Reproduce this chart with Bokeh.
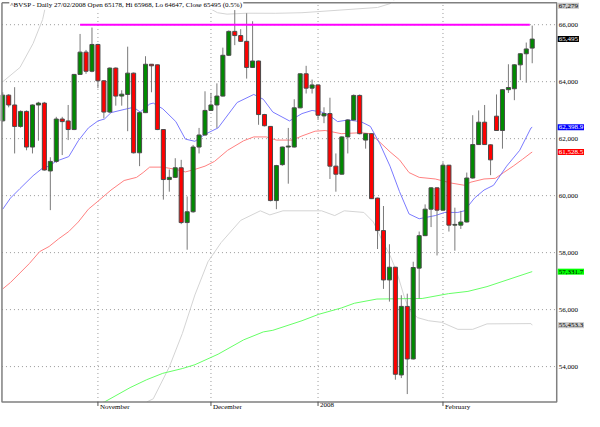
from bokeh.plotting import figure
from bokeh.models import Range1d, Label
from bokeh.embed import file_html
from bokeh.resources import INLINE
from bokeh.core.properties import value

# ---------------- data ----------------
symbol = "^BVSP"
last_date = "27/02/2008"
change_pct = "0.5%"

opens = [62626, 63527, 63182, 62430, 62957, 61706, 63182, 63249, 60867, 61202,
         62689, 62622, 62320, 64255, 65037, 64366, 65306, 64031, 62934, 64477,
         63494, 63551, 64299, 61504, 62913, 64611, 64591, 62320, 60565, 60642,
         60978, 59055, 59434, 61706, 62128, 62991, 63182, 63494, 64926, 65765,
         65618, 65416, 64500, 64725, 62846, 62430, 59827, 61088, 61706, 61706,
         63081, 64276, 63772, 63886, 62799, 62880, 61035, 60753, 62061, 62655,
         63517, 61950, 62175, 59914, 58773, 57042, 57488, 53707, 56113, 54268,
         57455, 58596, 59525, 60273, 59491, 61068, 58965, 58965, 59075, 60619,
         61793, 62578, 61783, 62789, 62286, 63719, 63752, 64591, 64980, 65178]
highs = [63628, 63560, 63806, 62990, 62990, 63200, 63293, 63290, 61347, 62766,
         62766, 63182, 64270, 65675, 65114, 65899, 65330, 64050, 64500, 64500,
         63700, 65228, 64320, 62930, 64893, 64620, 64600, 62330, 60920, 61313,
         61256, 59971, 61780, 62377, 63662, 63605, 63940, 65195, 65800, 66513,
         65842, 66403, 66121, 64740, 62870, 62440, 61080, 61720, 62377, 63383,
         64290, 64557, 64074, 63900, 63101, 63437, 61481, 62080, 62680, 63551,
         63550, 62190, 62190, 59930, 59636, 58294, 57500, 56505, 56559, 57680,
         58740, 59693, 60300, 60290, 61169, 61080, 59578, 59468, 60810, 62823,
         62991, 63182, 61800, 63551, 63740, 64611, 64610, 65000, 65373, 65968]
lows = [62590, 63100, 61481, 62386, 61592, 61481, 61927, 60880, 59491, 61150,
        61424, 61950, 62300, 64240, 64276, 64330, 63772, 62712, 62900, 63158,
        63158, 62262, 61480, 61035, 62900, 63628, 62300, 59860, 60139, 60620,
        59000, 58102, 59400, 61481, 62100, 62980, 62377, 63480, 64900, 65282,
        65400, 64108, 64480, 62487, 62430, 59800, 59525, 61050, 60420, 61690,
        63070, 63584, 63584, 62655, 62544, 60585, 60139, 60740, 61481, 62640,
        62150, 61649, 59880, 58126, 56727, 56281, 53540, 53597, 53036, 54250,
        56391, 58580, 58897, 57901, 59470, 58740, 58069, 58831, 59060, 60600,
        61780, 61780, 60719, 62270, 61649, 63605, 63350, 64054, 63964, 64647]
closes = [63527, 63182, 62430, 62957, 61706, 63182, 63249, 60900, 61202, 62689,
          62598, 62320, 64255, 65037, 64366, 65306, 64031, 62934, 64477, 63494,
          63561, 64299, 61504, 62913, 64611, 64557, 62320, 60565, 60642, 60978,
          59055, 59434, 61706, 62128, 62991, 63182, 63494, 64926, 65765, 65618,
          65416, 64500, 64725, 62846, 62454, 59827, 61055, 61706, 61740, 63081,
          64276, 63772, 63886, 62823, 62880, 61035, 60753, 62061, 62655, 63517,
          62175, 62175, 59894, 58773, 57042, 57488, 53731, 56113, 54268, 57478,
          58596, 59525, 60273, 59491, 61068, 58965, 58990, 59075, 60619, 61793,
          62578, 61793, 61256, 62286, 63719, 63796, 64591, 64980, 65148, 65495]

# month boundaries (bar index of first session) and their labels
month_idx = [16, 35, 53, 74]
month_labels = ["November", "December", "2008", "February"]
price_ticks = [54000, 56000, 58000, 60000, 62000, 64000, 66000]

# short moving average (blue)
ma_short_x = [0, 1.3, 2.9, 5.1, 6.7, 7.8, 8.9, 11.1, 12.7, 14.4, 16.0, 17.1, 18.2,
              20.4, 22.0, 23.1, 24.7, 25.3, 26.9, 29.1, 30.7, 32.3, 34.0, 36.2,
              39.4, 42.2, 43.8, 45.4, 48.2, 50.3, 52.0, 53.6, 54.7, 56.3, 58.0,
              60.2, 61.8, 63.4, 65.1, 66.7, 68.3, 70.0, 72.7, 74.3, 76.5, 77.6,
              79.3, 80.9, 82.5, 84.7, 86.9, 88.8, 89]
ma_short_y = [59525, 59914, 60249, 60699, 60968, 61035, 61202, 61370, 61927, 62377,
              62622, 62689, 62913, 63024, 63101, 62934, 63215, 63249, 63048, 62598,
              61984, 61907, 62152, 62377, 63269, 63551, 63383, 62934, 62622, 62880,
              62991, 62934, 62846, 62598, 62655, 62598, 62430, 61816, 61035, 60139,
              59357, 59189, 59300, 59411, 59411, 59468, 59914, 60196, 60364, 61035,
              61592, 62377, 62398.9]
# medium moving average (red)
ma_mid_x = [0, 1.3, 2.9, 4.5, 6.2, 7.8, 9.4, 11.1, 12.7, 14.4, 16.0, 18.2, 20.4,
            22.5, 23.6, 24.7, 26.9, 29.1, 30.7, 32.3, 34.0, 35.6, 37.8, 40.5, 42.2,
            44.3, 46.0, 48.7, 50.3, 52.5, 54.2, 55.3, 56.9, 60.2, 61.8, 63.4, 65.1,
            66.7, 68.3, 70.0, 72.7, 75.4, 77.6, 78.7, 80.9, 82.8, 84.2, 85.8, 87.4,
            88.8, 89]
ma_mid_y = [56727, 56952, 57287, 57623, 58035, 58216, 58485, 58740, 59075, 59525,
            59803, 60196, 60531, 60642, 60810, 61001, 61001, 60921, 60833, 60921,
            61035, 61202, 61592, 61927, 62061, 62061, 61950, 61950, 62095, 62262,
            62286, 62242, 62175, 62209, 62175, 61873, 61538, 61256, 60810, 60642,
            60585, 60441, 60364, 60474, 60585, 60608, 60810, 61035, 61280, 61504,
            61528.5]
# long moving average (green)
ma_long_x = [12.0, 17.1, 21.4, 24.2, 26.9, 30.2, 32.3, 36.2, 40.5, 43.8, 45.4,
             50.3, 53.1, 56.9, 59.1, 62.9, 70.5, 74.9, 78.2, 81.4, 88.8, 89]
ma_long_y = [52450, 52758, 53261, 53540, 53764, 53932, 54066, 54435, 54939, 55217,
             55274, 55610, 55834, 56056, 56223, 56371, 56391, 56559, 56640, 56807,
             57321, 57331.7]
# upper Bollinger band (grey)
bb_up_x = [0, 2.9, 5.1, 6.7, 7.3, 10.0, 20.0, 30.0, 33.4, 36.1, 37.7, 41.0, 45.9,
           50.3, 63.0, 65.1, 70.0, 80.0, 89]
bb_up_y = [63997, 64500, 65339, 66178, 66748, 67800, 68300, 67300, 66738, 66420,
           66370, 66403, 66400, 66420, 66604, 66738, 67600, 67700, 67279]
# lower Bollinger band (grey)
bb_lo_x = [20.0, 24.2, 25.3, 28.0, 30.2, 32.3, 34.5, 36.7, 40.0, 43.3, 44.9, 47.1,
           53.6, 55.8, 57.4, 60.7, 62.3, 63.7, 65.1, 66.2, 67.5, 68.3, 69.7, 71.6,
           73.8, 76.5, 79.0, 81.4, 88.8, 89]
bb_lo_y = [51800, 52758, 52869, 53989, 55167, 56515, 57680, 58351, 59132, 59468,
           59324, 59468, 59468, 59300, 59468, 59411, 59075, 58461, 57901, 57344,
           56448, 56002, 55720, 55609, 55553, 55308, 55308, 55499, 55509, 55453.3]

# horizontal resistance level (magenta)
resist_level = 66000
resist_from = 13
resist_to = 88.6

# ---------------- layout ----------------
W, H = 584, 411
# whole canvas is the data frame; the price box sits inside it
x_start, x_end = -0.376, 97.79
y_start, y_end = 52424, 66849
bx0, bx1 = -0.131, 93.12          # price box left / right (axis) edge
by0, by1 = 52758, 66772           # price box bottom / top edge
px_y = H / (y_end - y_start)      # pixels per price unit
FONT = "Liberation Serif"
FRAME = "#808080"

p = figure(width=W, height=H, output_backend="svg", toolbar_location=None,
           x_range=Range1d(x_start, x_end), y_range=Range1d(y_start, y_end),
           min_border=0, background_fill_color="white",
           border_fill_color="white")
p.axis.visible = False
p.grid.visible = False
p.outline_line_color = None

# dotted grid
p.segment(x0=month_idx, y0=[by0] * len(month_idx), x1=month_idx,
          y1=[by1] * len(month_idx), line_color="#9a9a9a", line_dash="1 3",
          line_width=1)
p.segment(x0=[bx0] * len(price_ticks), y0=price_ticks, x1=[bx1] * len(price_ticks),
          y1=price_ticks, line_color="#9a9a9a", line_dash="1 3", line_width=1)

# bollinger bands and moving averages
p.line(bb_up_x, bb_up_y, line_color="#d4d4d4", line_width=1)
p.line(bb_lo_x, bb_lo_y, line_color="#d4d4d4", line_width=1)
p.line(ma_long_x, ma_long_y, line_color="#66ff66", line_width=1)
p.line(ma_mid_x, ma_mid_y, line_color="#ff8080", line_width=1)
p.line(ma_short_x, ma_short_y, line_color="#7a7aff", line_width=1)

# candles
idx = list(range(len(opens)))
up = [c >= o for o, c in zip(opens, closes)]
body_top = [max(o, c) for o, c in zip(opens, closes)]
body_bot = [min(o, c) for o, c in zip(opens, closes)]
colors = ["#008a00" if u else "#ff0000" for u in up]
p.segment(x0=idx, y0=lows, x1=idx, y1=highs, line_color="#7a7a7a", line_width=1)
p.vbar(x=idx, width=0.68, top=body_top, bottom=body_bot,
       fill_color=colors, line_color="#4a4a4a", line_width=1)

# resistance line
p.segment(x0=[resist_from], y0=[resist_level], x1=[resist_to], y1=[resist_level],
          line_color="#ff00ff", line_width=2)

# white masks outside the price box
p.quad(left=[x_start, x_start, x_start, bx1], right=[x_end, x_end, bx0, x_end],
       bottom=[by1, y_start, y_start, y_start], top=[y_end, by0, y_end, y_end],
       fill_color="white", line_color=None)

# price box frame and axis line
p.line(x=[bx0, bx1, bx1, bx0, bx0], y=[by1, by1, by0, by0, by1],
       line_color=FRAME, line_width=1.5)

# month ticks and labels (left-aligned just right of the tick)
tick_len = 4 / px_y
p.segment(x0=month_idx, y0=[by0] * len(month_idx), x1=month_idx,
          y1=[by0 - tick_len] * len(month_idx), line_color="#505050", line_width=1)
p.text(x=month_idx, y=[by0] * len(month_idx), text=month_labels, x_offset=2,
       y_offset=1, text_align="left", text_baseline="top",
       text_font=value(FONT), text_font_size="7px", text_color="black")

# price tick labels on the right axis
p.text(x=[bx1] * len(price_ticks), y=price_ticks,
       text=[f"{t:,}" for t in price_ticks], x_offset=2, text_align="left",
       text_baseline="middle", text_font=value(FONT), text_font_size="7px",
       text_color="black")

# title over the top frame line
title_text = (f"{symbol} - Daily {last_date} Open {opens[-1]}, Hi {highs[-1]}, "
              f"Lo {lows[-1]}, Close {closes[-1]} ({change_pct})")
p.add_layout(Label(x=1.1, y=by1 - 2.0 / px_y, text=title_text,
                   text_baseline="middle", text_align="left", text_font=FONT,
                   text_font_size="7px", text_color="black",
                   background_fill_color="white", padding=1))

# value tags on the right axis (kept inside the canvas)
tag_top = by1 - 3.0 / px_y
tags = [
    (bb_up_y[-1], f"{bb_up_y[-1]:,.0f}", "#c8c8c8", "black"),
    (closes[-1], f"{closes[-1]:,.0f}", "black", "white"),
    (ma_short_y[-1], f"{ma_short_y[-1]:,.1f}", "#0000ff", "white"),
    (ma_mid_y[-1], f"{ma_mid_y[-1]:,.1f}", "#ff0000", "white"),
    (ma_long_y[-1], f"{ma_long_y[-1]:,.1f}", "#00ff00", "black"),
    (bb_lo_y[-1], f"{bb_lo_y[-1]:,.1f}", "#c8c8c8", "black"),
]
for v, t, bg, fg in tags:
    p.add_layout(Label(x=bx1, y=min(max(v, by0), tag_top), text=t, x_offset=1,
                       text_baseline="middle", text_align="left",
                       text_font=FONT, text_font_size="7px",
                       text_color=fg, background_fill_color=bg, padding=1))

open("out.html", "w").write(file_html(p, INLINE))
